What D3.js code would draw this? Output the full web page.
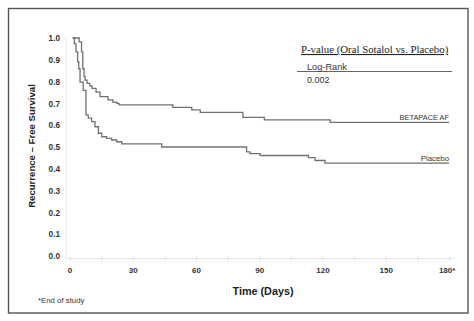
<!DOCTYPE html>
<html><head><meta charset="utf-8">
<script src="https://cdn.jsdelivr.net/npm/d3@7"></script>
<style>
html,body{margin:0;padding:0;background:#fff;}
svg{display:block;}
</style></head>
<body>
<svg id="c" width="474" height="321"></svg>
<script>
// ---- data ----
const betapaceDays = [1.5, 4.6, 5.7, 6.3, 6.9, 7.4, 8.3, 9.7, 10.7, 12.6, 14.5, 18.3, 20.6, 22.5, 23.5, 49, 58, 62, 82.2, 92.4, 123.6, 180];
const betapaceSurv = [1.0, 0.982, 0.936, 0.859, 0.823, 0.807, 0.792, 0.78, 0.769, 0.752, 0.731, 0.716, 0.705, 0.70, 0.693, 0.682, 0.67, 0.659, 0.636, 0.624, 0.613, 0.613];
const placeboDays = [1.5, 2.3, 3.1, 3.9, 4.4, 5.0, 6.5, 7.8, 8.9, 10.5, 12.1, 13.7, 15.3, 17.6, 20.0, 22.4, 24.8, 43.7, 84, 85.6, 90.4, 113.3, 116.5, 121.2, 180];
const placeboSurv = [1.0, 0.974, 0.936, 0.89, 0.859, 0.798, 0.76, 0.647, 0.632, 0.616, 0.593, 0.563, 0.547, 0.54, 0.532, 0.524, 0.514, 0.50, 0.478, 0.47, 0.461, 0.451, 0.438, 0.426, 0.426];
const seriesNames = ["BETAPACE AF", "Placebo"];
const xTickValues = [0, 30, 60, 90, 120, 150, 180];
const xTickLabels = ["0", "30", "60", "90", "120", "150", "180*"];
const xMinorTicks = [0, 15, 30, 45, 60, 75, 90, 105, 120, 135, 150, 165, 180];
const yTickValues = [0, 0.1, 0.2, 0.3, 0.4, 0.5, 0.6, 0.7, 0.8, 0.9, 1.0];
const pTitle = "P-value (Oral Sotalol vs. Placebo)";
const pTestName = "Log-Rank";
const pValue = "0.002";

// ---- drawing ----
const svg = d3.select("#c");
const sans = "'Liberation Sans', Arial, sans-serif";

svg.append("rect").attr("x", 8.5).attr("y", 8.5).attr("width", 459.5).attr("height", 304.5)
  .attr("fill", "#fff").attr("stroke", "#555").attr("stroke-width", 1.4);

const x = d3.scaleLinear().domain([0, 180]).range([69.5, 449]);
const y = d3.scaleLinear().domain([0, 1]).range([256, 38]);

// x axis: faint line with minor ticks
const gx = svg.append("g").attr("transform", "translate(0,258.5)");
gx.call(d3.axisBottom(x).tickValues(xMinorTicks).tickSize(3).tickSizeOuter(0).tickFormat(""));
gx.select(".domain").attr("stroke", "#e6e6e6").attr("d", "M66,0H455");
gx.selectAll(".tick line").attr("stroke", "#e2e2e2").attr("y1", -2).attr("y2", 3);

const gxl = svg.append("g").attr("transform", "translate(0,258.5)");
gxl.call(d3.axisBottom(x).tickValues(xTickValues).tickSize(0).tickPadding(9)
  .tickFormat((d, i) => xTickLabels[i]));
gxl.select(".domain").remove();
gxl.selectAll("text").attr("font-family", sans).attr("font-size", 8).attr("font-weight", "bold").attr("fill", "#333");
gxl.selectAll(".tick text").filter((d) => d === 180).attr("dx", "-0.3em");

// y axis
const gy = svg.append("g").attr("transform", "translate(66,0)");
gy.call(d3.axisLeft(y).tickValues(yTickValues).tickSize(0).tickPadding(6).tickFormat(d3.format(".1f")));
gy.select(".domain").attr("stroke", "#ececec").attr("d", "M0,36V258.5");
gy.selectAll("text").attr("font-family", sans).attr("font-size", 8.2).attr("font-weight", "bold").attr("fill", "#333");

// curves
const line = d3.line().x(d => x(d[0])).y(d => y(d[1])).curve(d3.curveStepAfter);
const betapace = betapaceDays.map((d, i) => [d, betapaceSurv[i]]);
const placebo = placeboDays.map((d, i) => [d, placeboSurv[i]]);
[betapace, placebo].forEach(s => {
  svg.append("path").datum(s).attr("d", line).attr("fill", "none")
    .attr("stroke", "#707070").attr("stroke-width", 1.3);
});

// series labels
svg.append("text").attr("x", x(180)).attr("y", y(betapaceSurv[betapaceSurv.length - 1]) - 2)
  .attr("text-anchor", "end").attr("font-family", sans).attr("font-size", 7.4).attr("fill", "#333")
  .text(seriesNames[0]);
svg.append("text").attr("x", x(180)).attr("y", y(placeboSurv[placeboSurv.length - 1]) - 2)
  .attr("text-anchor", "end").attr("font-family", sans).attr("font-size", 7.8).attr("fill", "#333")
  .text(seriesNames[1]);

// axis titles
svg.append("text").attr("transform", "translate(35,146) rotate(-90)").attr("text-anchor", "middle")
  .attr("font-family", sans).attr("font-size", 9.6).attr("font-weight", "bold").attr("fill", "#222")
  .text("Recurrence \u2013 Free Survival");
svg.append("text").attr("x", 263).attr("y", 295).attr("text-anchor", "middle")
  .attr("font-family", sans).attr("font-size", 10.8).attr("font-weight", "bold").attr("fill", "#222")
  .text("Time (Days)");
svg.append("text").attr("x", 38).attr("y", 303)
  .attr("font-family", sans).attr("font-size", 7.8).attr("fill", "#333")
  .text("*End of study");

// p-value box
svg.append("text").attr("x", 301).attr("y", 53)
  .attr("font-family", "'Liberation Serif', 'Times New Roman', serif").attr("font-size", 10.8)
  .attr("fill", "#222").attr("text-decoration", "underline").text(pTitle);
svg.append("line").attr("x1", 297).attr("x2", 452).attr("y1", 71.5).attr("y2", 71.5)
  .attr("stroke", "#666").attr("stroke-width", 1);
svg.append("text").attr("x", 307).attr("y", 70)
  .attr("font-family", sans).attr("font-size", 9.2).attr("fill", "#333").text(pTestName);
svg.append("text").attr("x", 307).attr("y", 83)
  .attr("font-family", sans).attr("font-size", 9).attr("fill", "#333").text(pValue);
</script>
</body></html>
